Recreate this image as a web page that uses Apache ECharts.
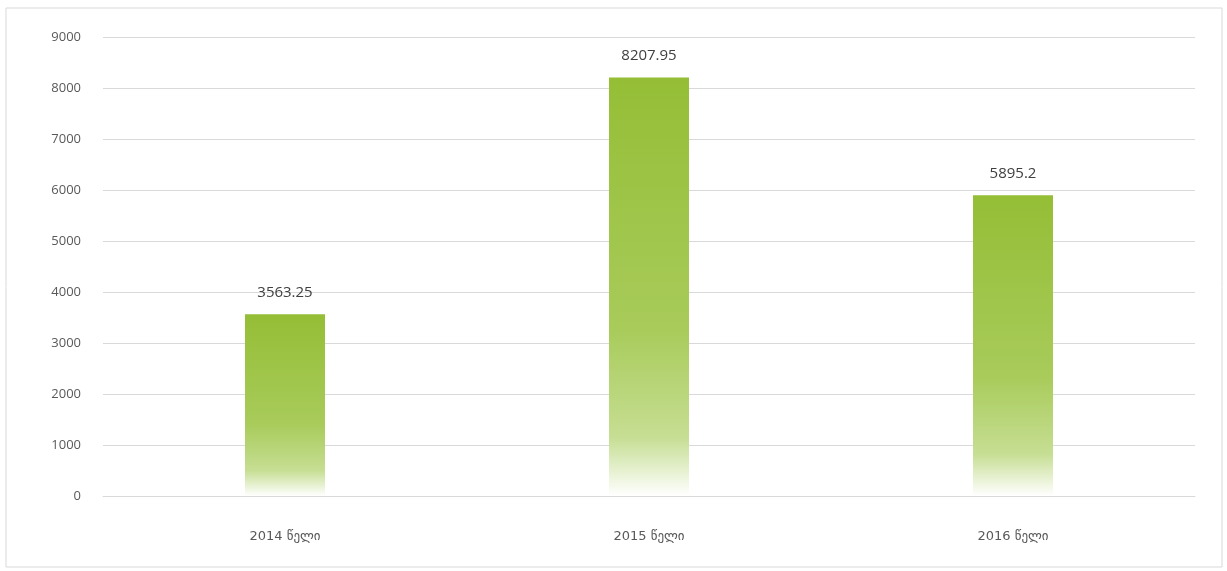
<!DOCTYPE html>
<html><head><meta charset="utf-8">
<script src="https://cdn.jsdelivr.net/npm/echarts@6/dist/echarts.min.js"></script>
<style>html,body{margin:0;padding:0;background:#fff;}#c{width:1227px;height:571px;}</style>
</head><body><div id="c"></div>
<script>
var categories = ["2014 წელი", "2015 წელი", "2016 წელი"];
var values = [3563.25, 8207.95, 5895.2];
var labels = ["3563.25", "8207.95", "5895.2"];
var chart = echarts.init(document.getElementById('c'));
chart.setOption({
  animation: false,
  backgroundColor: '#fff',
  graphic: [{type:'rect', shape:{x:6, y:8, width:1216, height:559}, style:{fill:'none', stroke:'#d9d9d9', lineWidth:1}, silent:true}],
  grid: {left:103, right:32, top:37, bottom:75},
  xAxis: {
    type:'category', data: categories,
    axisLine:{lineStyle:{color:'#d9d9d9'}}, axisTick:{show:false},
    axisLabel:{color:'#595959', fontSize:13, fontFamily:'"DejaVu Sans", sans-serif', margin:34}
  },
  yAxis: {
    type:'value', min:0, max:9000, interval:1000,
    axisLine:{show:false}, axisTick:{show:false},
    axisLabel:{color:'#595959', fontSize:13, fontFamily:'"Open Sans", sans-serif', margin:22,
      formatter:function(v){return String(v);}},
    splitLine:{lineStyle:{color:'#d9d9d9'}}
  },
  series: [{
    type:'bar', data: values, barWidth: 80,
    itemStyle:{color: new echarts.graphic.LinearGradient(0,0,0,1,[
      {offset:0, color:'#95be36'},
      {offset:0.6, color:'#a8cb5a'},
      {offset:0.86, color:'#c6de93'},
      {offset:1, color:'#ffffff'}
    ])},
    label:{show:true, position:'top', distance:14, color:'#404040', fontSize:15, fontFamily:'"Open Sans", sans-serif',
      formatter:function(p){return labels[p.dataIndex];}}
  }]
});
</script></body></html>
